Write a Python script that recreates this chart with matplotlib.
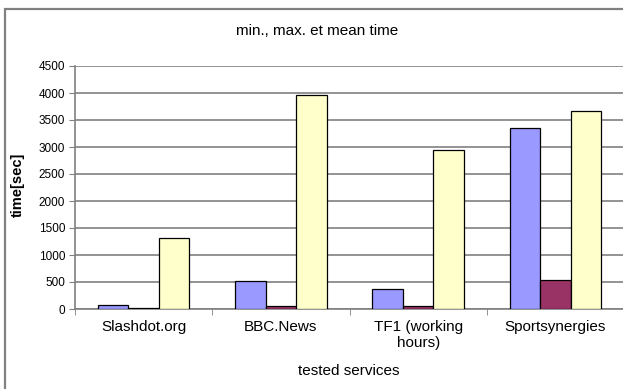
import matplotlib
matplotlib.use("Agg")
import matplotlib.pyplot as plt
from matplotlib.patches import Rectangle
import numpy as np

categories = ["Slashdot.org", "BBC.News", "TF1 (working\nhours)", "Sportsynergies"]
series_blue = [80, 510, 375, 3360]
series_dark = [10, 60, 60, 535]
series_yellow = [1310, 3960, 2940, 3665]
yticks = [0, 500, 1000, 1500, 2000, 2500, 3000, 3500, 4000, 4500]

plt.rcParams['font.family'] = ['Liberation Sans', 'DejaVu Sans']

W, H = 623, 389
fig = plt.figure(figsize=(W / 100, H / 100), dpi=100)
fig.patch.set_facecolor('white')

# outer chart frame
fig.patches.append(Rectangle((5 / W, -0.05), 1.1, (H - 9) / H + 0.05,
                             transform=fig.transFigure, fill=False,
                             edgecolor='#808080', linewidth=1.6))

ax = fig.add_axes([75 / W, 80 / H, 549 / W, 243 / H])
x = np.arange(len(categories))
bw = 0.222
ax.bar(x - bw, series_blue, bw, color='#9999FF', edgecolor='black', linewidth=0.9, zorder=3)
ax.bar(x, series_dark, bw, color='#993366', edgecolor='black', linewidth=0.9, zorder=3)
ax.bar(x + bw, series_yellow, bw, color='#FFFFCC', edgecolor='black', linewidth=0.9, zorder=3)

ax.set_xlim(-0.5, len(categories) - 0.5)
ax.set_ylim(0, 4500)
ax.set_yticks(yticks)
ax.set_yticklabels([str(v) for v in yticks], fontsize=8.5)
ax.yaxis.grid(True, color='#808080', linewidth=1.2)
ax.set_axisbelow(True)

ax.set_xticks(x)
ax.set_xticklabels(categories, fontsize=11)
ax.set_xticks(np.arange(-0.5, len(categories) + 0.5, 1), minor=True)
ax.tick_params(axis='x', which='major', length=0, pad=8)
ax.tick_params(axis='x', which='minor', length=4, color='#808080')
ax.tick_params(axis='y', length=4, color='#808080', pad=3)

for s in ['top', 'right']:
    ax.spines[s].set_visible(False)
for s in ['left', 'bottom']:
    ax.spines[s].set_color('#808080')
    ax.spines[s].set_linewidth(1.2)

fig.text(317 / W, 1 - 31 / H, "min., max. et mean time", ha='center', va='center', fontsize=11)
fig.text(18 / W, 1 - 185 / H, "time[sec]", ha='center', va='center', rotation=90, fontsize=10.5, fontweight='bold')
fig.text(349 / W, 1 - 371 / H, "tested services", ha='center', va='center', fontsize=11)

fig.savefig("out.png", dpi=100, facecolor='white')
